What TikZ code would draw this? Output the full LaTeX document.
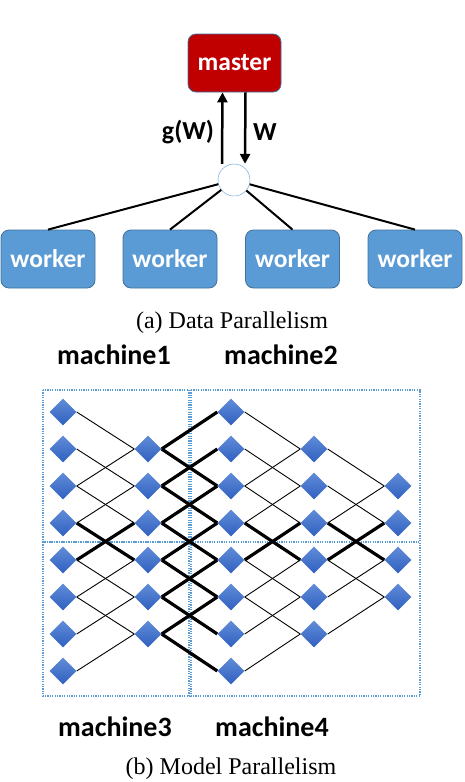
\documentclass[tikz,border=0pt]{standalone}
\usepackage{fontspec}
\setmainfont{Liberation Serif}
\newfontfamily\lblfont{Carlito}
\usetikzlibrary{shapes.geometric, arrows.meta, positioning}
\definecolor{masterred}{RGB}{192,0,0}
\definecolor{workerblue}{RGB}{91,155,213}
\definecolor{workeredge}{RGB}{65,113,156}
\definecolor{diamtop}{RGB}{96,140,216}
\definecolor{diambot}{RGB}{48,96,192}

\begin{document}
\begin{tikzpicture}[x=1pt, y=-1pt,
    box/.style={rectangle, rounded corners=8pt, draw=workeredge, line width=0.8pt,
                minimum width=94pt, minimum height=58pt, text=white,
                font=\lblfont\bfseries\fontsize{25.5}{28}\selectfont},
    lbl/.style={font=\lblfont\bfseries\fontsize{28}{30}\selectfont},
    caption/.style={font=\fontsize{24}{26}\selectfont},
    unit/.style={diamond, minimum width=27pt, minimum height=27pt, inner sep=0pt,
                 top color=diamtop, bottom color=diambot},
    link/.style={line width=0.9pt},
    hot/.style={line width=3.2pt},
    flow/.style={line width=2.5pt, -{Triangle[length=10pt, width=10pt]}},
    spoke/.style={line width=2pt},
    part/.style={draw=workerblue, dash pattern=on 1.2pt off 1.2pt, line width=1.2pt}]
    \useasboundingbox (0,0) rectangle (464,782);

    % (a) data parallelism
    \node[box, fill=masterred, minimum width=93pt] (master) at (234.5,63) {master};
    \node[circle, draw=workerblue, fill=white, minimum size=32pt, inner sep=0pt] (hub) at (234,180) {};
    \node[box, fill=workerblue] (w1) at (48,259) {worker};
    \node[box, fill=workerblue] (w2) at (170,259) {worker};
    \node[box, fill=workerblue] (w3) at (292.5,259) {worker};
    \node[box, fill=workerblue] (w4) at (415,259) {worker};

    \draw[flow] ([xshift=-12pt]hub.north) -- ([xshift=-12pt]master.south);
    \draw[flow] ([xshift=11pt]master.south) -- ([xshift=11pt]hub.north);
    \node[lbl, font=\lblfont\bfseries\fontsize{26}{28}\selectfont] (grad) at (188,132) {g(W)};
    \node[lbl, font=\lblfont\bfseries\fontsize{26}{28}\selectfont] (wts) at (265,132) {W};

    \draw[spoke] (hub) -- (w1.north);
    \draw[spoke] (hub) -- (w2.north);
    \draw[spoke] (hub) -- (w3.north);
    \draw[spoke] (hub) -- (w4.north);

    \node[caption] (capa) at (232,323) {(a) Data Parallelism};

    % (b) model parallelism
    \node[lbl] (m1) at (114,355) {machine1};
    \node[lbl] (m2) at (281,355) {machine2};
    \node[lbl] (m3) at (115,727) {machine3};
    \node[lbl] (m4) at (272,727) {machine4};

    \draw[part] (43,390) rectangle (189,542);
    \draw[part] (191,390) rectangle (420,542);
    \draw[part] (43,542) rectangle (189,696);
    \draw[part] (191,542) rectangle (420,696);

    \foreach \c/\x/\first/\last in {1/63/1/8, 2/148/2/7, 3/231/1/8, 4/314/2/7, 5/398/3/6}
        \foreach \r in {\first,...,\last}
            \node[unit] (u\c-\r) at (\x,{375+37*\r}) {};

    % layer 1 -> 2 and 3 -> 4
    \foreach \a/\b in {1/2, 2/3, 3/2, 3/4, 4/3, 5/6, 6/5, 6/7, 7/6, 8/7} {
        \draw[link] (u1-\a.east) -- (u2-\b.west);
        \draw[link] (u3-\a.east) -- (u4-\b.west);
    }
    \foreach \a/\b in {4/5, 5/4} {
        \draw[hot] (u1-\a.east) -- (u2-\b.west);
        \draw[hot] (u3-\a.east) -- (u4-\b.west);
        \draw[hot] (u4-\a.east) -- (u5-\b.west);
    }
    % layer 2 -> 3 (all across machines)
    \foreach \a/\b in {2/1, 2/3, 3/2, 3/4, 4/3, 4/5, 5/4, 5/6, 6/5, 6/7, 7/6, 7/8}
        \draw[hot] (u2-\a.east) -- (u3-\b.west);
    % layer 4 -> 5
    \foreach \a/\b in {2/3, 3/4, 4/3, 5/6, 6/5, 7/6}
        \draw[link] (u4-\a.east) -- (u5-\b.west);

    \node[caption] (capb) at (231,769) {(b) Model Parallelism};
\end{tikzpicture}
\end{document}
